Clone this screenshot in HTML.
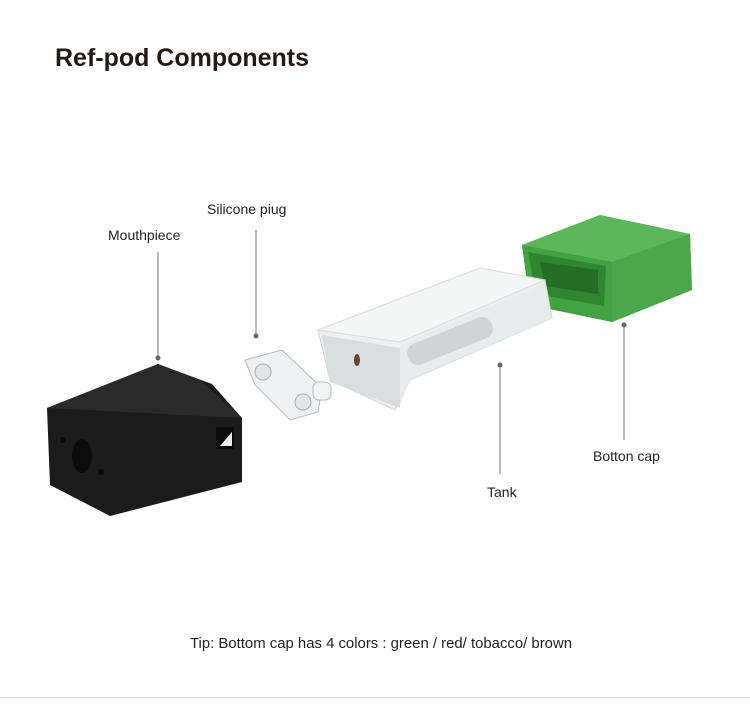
<!DOCTYPE html>
<html><head><meta charset="utf-8"><style>
body{margin:0;background:#fff;}
svg{display:block}
text{font-family:"Liberation Sans",sans-serif;}
</style></head><body>
<svg width="750" height="716" viewBox="0 0 750 716" xmlns="http://www.w3.org/2000/svg">
<text x="55" y="66" font-size="25" font-weight="bold" fill="#231a15" textLength="254" lengthAdjust="spacingAndGlyphs">Ref-pod Components</text>

<!-- green cap -->
<polygon points="522,245 600,215 690,234 692,290 612,322 530,305" fill="#3f9a3a"/>
<polygon points="522,245 600,215 690,234 612,262" fill="#5ab85a"/>
<polygon points="612,262 690,234 692,290 612,322" fill="#4aa84a"/>
<polygon points="522,245 612,262 612,322 532,302" fill="#43a343"/>
<polygon points="528,252 606,266 604,306 536,294" fill="#2e862e"/>
<polygon points="540,262 598,270 598,294 545,286" fill="#256c25"/>

<!-- tank -->
<polygon points="318,330 480,268 545,280 552,318 410,380 395,410 330,380" fill="#eef0f0" stroke="#cfd3d3"/>
<polygon points="318,330 480,268 545,280 400,342" fill="#f4f6f6" stroke="#d8dcdc"/>
<polygon points="322,335 400,348 400,408 330,382" fill="#dadddd"/>
<polygon points="400,345 545,283 552,318 410,380 400,405" fill="#e9ecec"/>
<rect x="405" y="330" width="90" height="22" rx="10" fill="#d0d4d4" transform="rotate(-22 450 341)"/>
<ellipse cx="357" cy="360" rx="3" ry="6" fill="#5a4838"/>

<!-- silicone plug -->
<polygon points="245,360 282,350 322,388 318,412 290,420 255,385" fill="#eef0f1" stroke="#b5b9bb"/>
<circle cx="263" cy="372" r="8" fill="#e3e6e7" stroke="#a9adaf"/>
<circle cx="303" cy="402" r="8" fill="#e3e6e7" stroke="#a9adaf"/>
<rect x="313" y="382" width="18" height="18" rx="6" fill="#f3f5f5" stroke="#b5b9bb"/>

<!-- mouthpiece -->
<polygon points="47,408 158,364 212,384 242,418 242,482 110,516 50,485" fill="#1b1b1b"/>
<polygon points="47,408 158,364 200,380 242,418" fill="#2a2a2a"/>
<ellipse cx="82" cy="456" rx="10" ry="17" fill="#0c0c0c"/>
<circle cx="63" cy="440" r="3" fill="#0a0a0a"/>
<circle cx="101" cy="472" r="3" fill="#0a0a0a"/>
<rect x="216" y="427" width="18" height="22" fill="#0b0b0b"/>
<polygon points="220,446 232,432 232,446" fill="#eee"/>

<!-- leader lines -->
<g stroke="#777" stroke-width="1">
<line x1="158" y1="252" x2="158" y2="358"/>
<line x1="256" y1="230" x2="256" y2="335"/>
<line x1="500" y1="365" x2="500" y2="474"/>
<line x1="624" y1="325" x2="624" y2="440"/>
</g>
<g fill="#666">
<circle cx="158" cy="358" r="2.5"/><circle cx="256" cy="336" r="2.5"/>
<circle cx="500" cy="365" r="2.5"/><circle cx="624" cy="325" r="2.5"/>
</g>

<g font-size="14" fill="#222">
<text x="108" y="240">Mouthpiece</text>
<text x="207" y="214">Silicone piug</text>
<text x="487" y="497">Tank</text>
<text x="593" y="461">Botton cap</text>
<text x="190" y="648" font-size="14.5" textLength="382" lengthAdjust="spacingAndGlyphs">Tip: Bottom cap has 4 colors : green / red/ tobacco/ brown</text>
</g>
<line x1="0" y1="697.5" x2="750" y2="697.5" stroke="#d0d0d0"/>
</svg>
</body></html>
